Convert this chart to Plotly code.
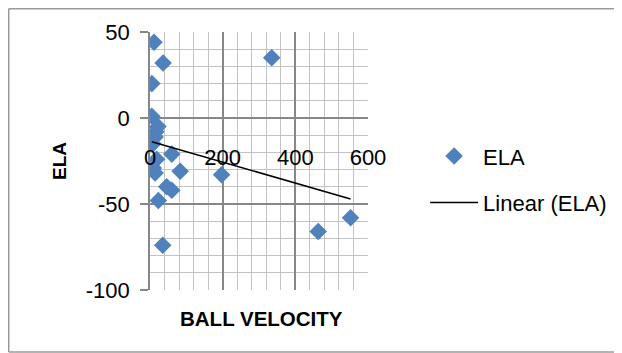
import numpy as np
import plotly.graph_objects as go

ball_velocity = [11, 36, 5, 5, 22, 16, 14, 8, 18, 60, 9, 14, 83, 197, 46, 60, 23, 35, 335, 463, 552]
ela = [44, 32, 20, 1, -5, -8, -11, -15, -24, -21, -29, -32, -31, -33, -40, -42, -48, -74, 35, -66, -58]
x_ticks = [0, 200, 400, 600]
y_ticks = [-100, -50, 0, 50]

slope, intercept = np.polyfit(ball_velocity, ela, 1)
tx = [min(ball_velocity), max(ball_velocity)]
ty = [slope * v + intercept for v in tx]

FONT = "Liberation Sans"
major = "#878787"
minor = "#c3c3c3"

fig = go.Figure()
fig.add_trace(go.Scatter(
    x=ball_velocity, y=ela, mode="markers", name="ELA",
    marker=dict(symbol="diamond", size=13.5, color="#4F81BD", line=dict(width=0)),
    legendgroup="a",
))
fig.add_trace(go.Scatter(
    x=tx, y=ty, mode="lines", name="Linear (ELA)",
    line=dict(color="black", width=1.5), legendgroup="b",
))

fig.update_layout(
    width=622, height=353,
    margin=dict(l=142, r=262, t=24, b=71),
    paper_bgcolor="white", plot_bgcolor="white",
    font=dict(family=FONT, size=22, color="black"),
    showlegend=True,
    legend=dict(x=1.262, y=0.60, xanchor="left", yanchor="top", itemwidth=48,
                font=dict(size=22), tracegroupgap=15, bgcolor="rgba(0,0,0,0)"),
    xaxis=dict(
        range=[0, 600], tickvals=x_ticks, ticktext=[str(v) for v in x_ticks],
        showgrid=True, gridcolor=major, gridwidth=1.5,
        minor=dict(dtick=40, tick0=0, showgrid=True, gridcolor=minor, gridwidth=1.2),
        zeroline=False, showline=False, ticks="",
        anchor="free", position=2/3, ticklabelstandoff=24,
        tickfont=dict(size=22),
    ),
    yaxis=dict(
        range=[-100, 50], tickvals=y_ticks, ticktext=[str(v) for v in y_ticks],
        showgrid=True, gridcolor=major, gridwidth=1.5,
        minor=dict(dtick=10, tick0=0, showgrid=True, gridcolor=minor, gridwidth=1.2),
        zeroline=False, showline=True, linecolor=major, linewidth=1.5,
        ticks="outside", ticklen=8, tickcolor=major, tickwidth=1.5,
        ticklabelstandoff=6, tickfont=dict(size=22),
        title=dict(text="<b>ELA</b>", font=dict(size=19), standoff=14),
    ),
)

fig.add_annotation(
    text="<b>BALL VELOCITY</b>", xref="paper", yref="paper",
    x=0.51, y=-0.058, xanchor="center", yanchor="top", showarrow=False,
    font=dict(size=20.5),
)

fig.add_shape(type="line", xref="paper", yref="paper",
              x0=-0.648, x1=-0.648, y0=-0.2403, y1=1.0901,
              line=dict(color="#9a9a9a", width=1.5), layer="below")
fig.add_shape(type="line", xref="paper", yref="paper",
              x0=-0.648, x1=2.6, y0=1.0901, y1=1.0901,
              line=dict(color="#9a9a9a", width=1.5), layer="below")
fig.add_shape(type="line", xref="paper", yref="paper",
              x0=-0.648, x1=2.6, y0=-0.2403, y1=-0.2403,
              line=dict(color="#9a9a9a", width=1.5), layer="below")

fig.write_html("out.html")
